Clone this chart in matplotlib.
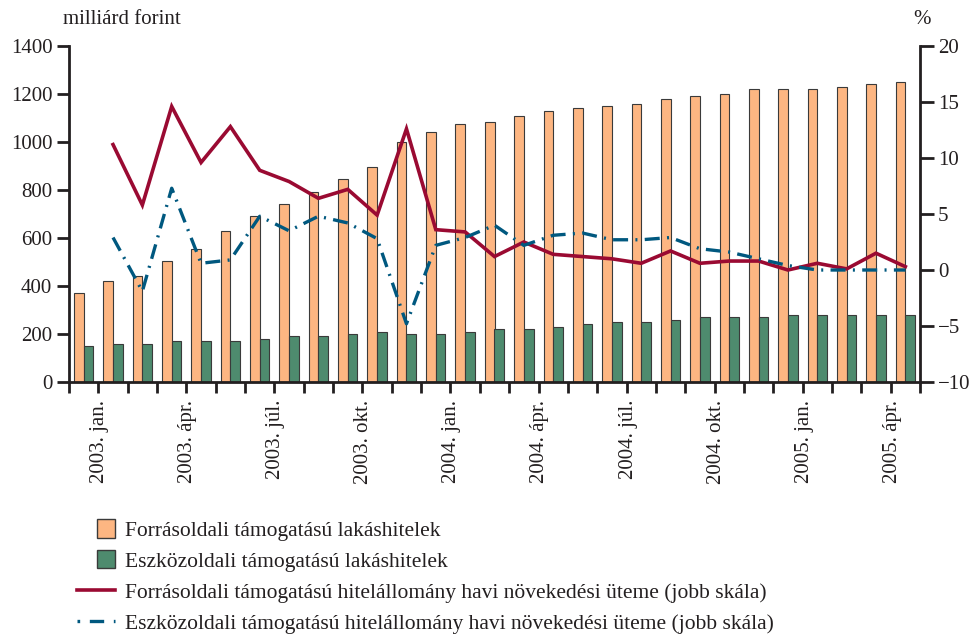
import matplotlib
matplotlib.use("Agg")
import matplotlib.pyplot as plt
from matplotlib.patches import Rectangle
from matplotlib.legend_handler import HandlerPatch
from matplotlib.lines import Line2D
import numpy as np

plt.rcParams['font.family'] = ['Liberation Serif', 'DejaVu Serif']

months = ["2002. dec.",
          "2003. jan.", "2003. febr.", "2003. márc.", "2003. ápr.", "2003. máj.", "2003. jún.",
          "2003. júl.", "2003. aug.", "2003. szept.", "2003. okt.", "2003. nov.", "2003. dec.",
          "2004. jan.", "2004. febr.", "2004. márc.", "2004. ápr.", "2004. máj.", "2004. jún.",
          "2004. júl.", "2004. aug.", "2004. szept.", "2004. okt.", "2004. nov.", "2004. dec.",
          "2005. jan.", "2005. febr.", "2005. márc.", "2005. ápr."]
shown_labels = ["2003. jan.", "2003. ápr.", "2003. júl.", "2003. okt.", "2004. jan.",
                "2004. ápr.", "2004. júl.", "2004. okt.", "2005. jan.", "2005. ápr."]

# milliard forint
forras = [370, 420, 440, 505, 555, 630, 690, 740, 790, 845, 895, 1000, 1040, 1075, 1085,
          1110, 1130, 1140, 1150, 1160, 1180, 1190, 1200, 1220, 1220, 1220, 1230, 1240, 1250]
eszkoz = [150, 160, 160, 170, 170, 170, 180, 190, 190, 200, 210, 200, 200, 210, 220,
          220, 230, 240, 250, 250, 260, 270, 270, 270, 280, 280, 280, 280, 280]
# % (right scale), starting 2003. jan.
forras_growth = [11.2, 5.8, 14.6, 9.6, 12.8, 8.9, 7.9, 6.4, 7.2, 4.9, 12.6, 3.6, 3.4, 1.2,
                 2.5, 1.4, 1.2, 1.0, 0.6, 1.7, 0.6, 0.8, 0.8, 0.0, 0.6, 0.1, 1.5, 0.3]
eszkoz_growth = [2.9, -1.9, 7.3, 0.6, 0.9, 4.8, 3.5, 4.8, 4.2, 2.8, -4.8, 2.2, 2.9, 4.0,
                 2.2, 3.1, 3.3, 2.7, 2.7, 2.9, 1.9, 1.6, 1.0, 0.4, 0.0, 0.0, 0.0, 0.0]

c_orange = "#FDB682"
c_green = "#4E8B6E"
c_red = "#9A0A32"
c_blue = "#00587F"
c_ax = "#231F20"

fig = plt.figure(figsize=(9.7, 6.36), dpi=100)
ax = fig.add_axes([69/970, 1-382/636, 851/970, 336/636])
ax2 = ax.twinx()

x = np.arange(len(months))
w = 0.33
ax.bar(x - w/2, forras, w, color=c_orange, edgecolor="#3a3a3a", linewidth=0.8, zorder=2)
ax.bar(x + w/2, eszkoz, w, color=c_green, edgecolor="#3a3a3a", linewidth=0.8, zorder=2)

xl = x[1:]
ax2.plot(xl, forras_growth, color=c_red, lw=2.6, solid_joinstyle="miter")
ax2.plot(xl, eszkoz_growth, color=c_blue, lw=2.4, linestyle=(0, (4.5, 2.2, 0.6, 2.2)))

ax.set_xlim(-0.5, len(months) - 0.5)
ax.set_ylim(0, 1400)
ax2.set_ylim(-10, 20)
ax.set_yticks(np.arange(0, 1401, 200))
ax2.set_yticks(np.arange(-10, 21, 5))
ax2.set_yticklabels([str(v).replace("-", "\u2212") for v in range(-10, 21, 5)])

ax.set_xticks(np.arange(-0.5, len(months), 1.0))
ax.set_xticklabels([])
lab_pos = [months.index(m) - 0.45 for m in shown_labels]
ax.set_xticks(lab_pos, minor=True)
ax.set_xticklabels(shown_labels, minor=True, rotation=90, fontsize=15, color=c_ax)
ax.tick_params(axis="x", which="minor", length=0, pad=13)
ax.tick_params(axis="x", which="major", length=8, width=2, color=c_ax, direction="out")

ax.tick_params(axis="y", length=9, width=2, color=c_ax, labelsize=15, labelcolor=c_ax, pad=3)
ax2.tick_params(axis="y", length=10, width=2, color=c_ax, labelsize=15, labelcolor=c_ax, pad=3)

for a in (ax, ax2):
    a.spines["top"].set_visible(False)
    for s in ("left", "right", "bottom"):
        a.spines[s].set_linewidth(2)
        a.spines[s].set_color(c_ax)
ax.spines["right"].set_visible(False)
ax2.spines["left"].set_visible(False)
ax2.spines["bottom"].set_visible(False)

fig.text(63/970, 1-20/636, "milliárd forint", fontsize=15, color=c_ax, va="center", ha="left")
fig.text(922/970, 1-20/636, "%", fontsize=15, color=c_ax, va="center", ha="center")


class SquareHandler(HandlerPatch):
    def create_artists(self, legend, orig_handle, xdescent, ydescent, width, height, fontsize, trans):
        s = height * 1.2
        p = Rectangle((width - s - xdescent, (height - s) / 2 - ydescent), s, s,
                      facecolor=orig_handle.get_facecolor(), edgecolor="#3a3a3a", lw=1.0,
                      transform=trans)
        return [p]


handles = [Rectangle((0, 0), 1, 1, facecolor=c_orange),
           Rectangle((0, 0), 1, 1, facecolor=c_green),
           Line2D([], [], color=c_red, lw=2.6),
           Line2D([], [], color=c_blue, lw=2.4, linestyle=(0, (0.8, 2.9, 4.3, 2.9)))]
labels = ["Forrásoldali támogatású lakáshitelek",
          "Eszközoldali támogatású lakáshitelek",
          "Forrásoldali támogatású hitelállomány havi növekedési üteme (jobb skála)",
          "Eszközoldali támogatású hitelállomány havi növekedési üteme (jobb skála)"]
leg = fig.legend(handles, labels, loc="upper left", bbox_to_anchor=(77/970, 1-521/636),
                 frameon=False, fontsize=15.5, handlelength=1.78, handletextpad=0.47,
                 labelspacing=0.5, borderaxespad=0, borderpad=0,
                 handler_map={Rectangle: SquareHandler()})
for t in leg.get_texts():
    t.set_color(c_ax)

fig.savefig("out.png", dpi=100)
